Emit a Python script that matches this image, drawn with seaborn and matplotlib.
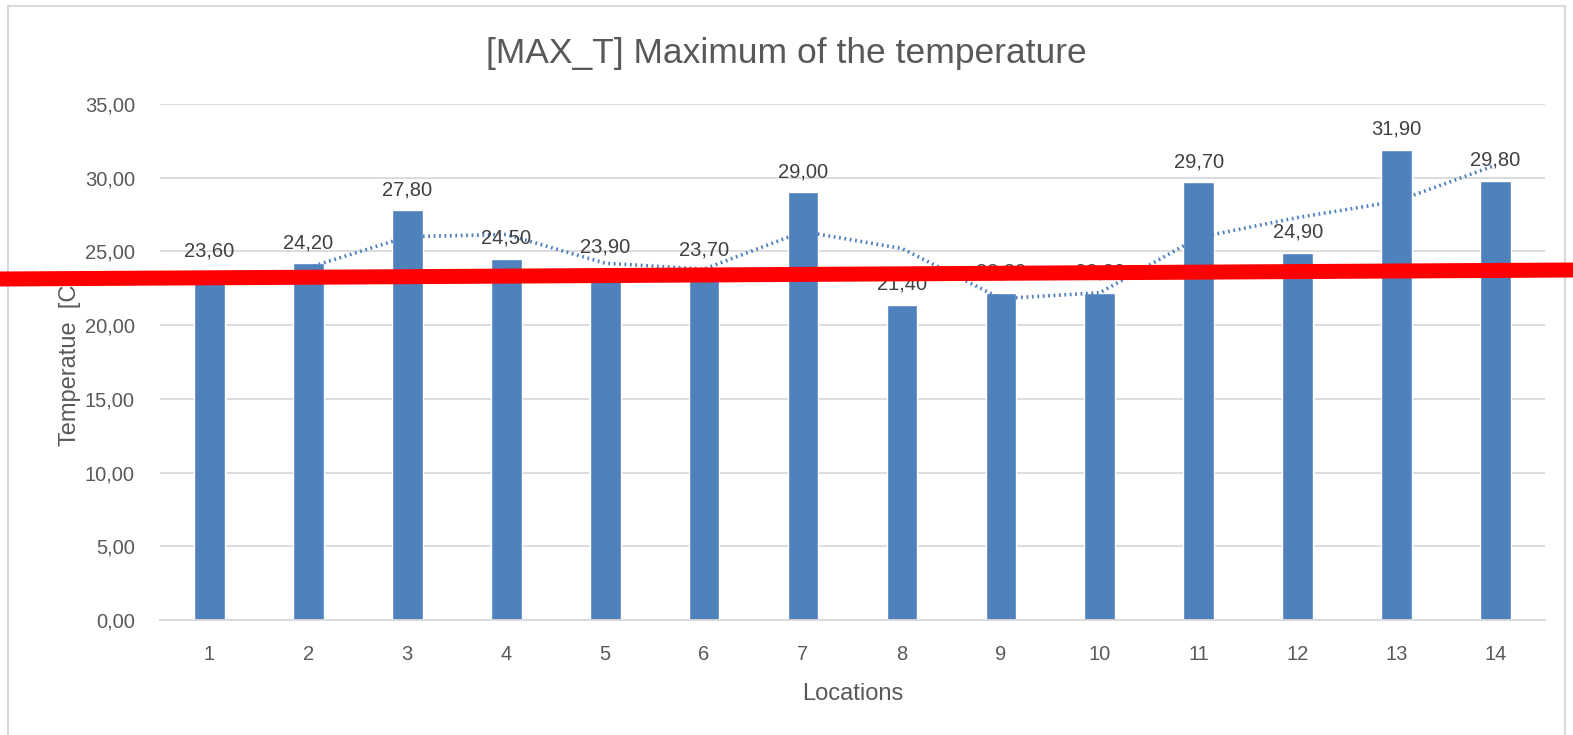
import numpy as np
import pandas as pd
import matplotlib
matplotlib.use("Agg")
import matplotlib.pyplot as plt
from matplotlib.lines import Line2D
from matplotlib.patches import Rectangle
from matplotlib.ticker import FuncFormatter, MultipleLocator
import seaborn as sns

# Datos
locations = [1, 2, 3, 4, 5, 6, 7, 8, 9, 10, 11, 12, 13, 14]
max_temp = [23.6, 24.2, 27.8, 24.5, 23.9, 23.7, 29.0, 21.4, 22.2, 22.2, 29.7, 24.9, 31.9, 29.8]

# Linea de tendencia punteada (media movil), valores estimados de la imagen
trend_locations = [2, 3, 4, 5, 6, 7, 8, 9, 10, 11, 12, 13, 14]
trend_values = [23.9, 26.0, 26.15, 24.2, 23.8, 26.35, 25.2, 21.8, 22.2, 25.95, 27.3, 28.4, 30.85]

df = pd.DataFrame({"location": locations, "max_temp": max_temp})
df_trend = pd.DataFrame({"location": trend_locations, "trend": trend_values})

sns.set_style("white")
plt.rcParams["font.family"] = ["Liberation Sans", "DejaVu Sans"]

bar_color = "#4F81BD"
text_color = "#595959"
grid_color = "#D9D9D9"

fig = plt.figure(figsize=(15.73, 7.35), dpi=100)
ax = fig.add_axes([160 / 1573, 1 - 620 / 735, 1385 / 1573, 516 / 735])

sns.barplot(data=df, x="location", y="max_temp", native_scale=True,
            color=bar_color, saturation=1, width=0.31, ax=ax, zorder=2)
sns.lineplot(data=df_trend, x="location", y="trend", color=bar_color,
             linestyle=(0, (0.5, 1.0)), linewidth=2.6, ax=ax, zorder=3)

# Etiquetas de datos con coma decimal
ax.bar_label(ax.containers[0], labels=[f"{v:.2f}".replace(".", ",") for v in max_temp],
             padding=8, fontsize=14.5, color="#404040", zorder=4)

ax.set_xlim(0.5, 14.5)
ax.set_ylim(0, 35)
ax.set_xticks(locations)
ax.yaxis.set_major_locator(MultipleLocator(5))
ax.yaxis.set_major_formatter(FuncFormatter(lambda v, p: f"{v:.2f}".replace(".", ",")))
ax.tick_params(axis="both", length=0, labelsize=14.5, labelcolor=text_color)
ax.tick_params(axis="x", pad=18)
ax.tick_params(axis="y", pad=18)

ax.grid(axis="y", color=grid_color, linewidth=1.3, zorder=0)
ax.set_axisbelow(True)
for s in ["top", "right", "left"]:
    ax.spines[s].set_visible(False)
ax.spines["bottom"].set_color(grid_color)
ax.spines["bottom"].set_linewidth(1.3)

ax.set_xlabel("Locations", fontsize=17, color=text_color, labelpad=14)
ax.set_ylabel("Temperatue  [C]", fontsize=17, color=text_color, labelpad=3)
fig.suptitle("[MAX_T] Maximum of the temperature", fontsize=25.5, color=text_color, y=0.95)

# Marco exterior del grafico
fig.add_artist(Rectangle((8 / 1573, -0.05), 1557 / 1573, 1.05 - 6 / 735,
                         transform=fig.transFigure, fill=False,
                         edgecolor="#D9D9D9", linewidth=1.5, zorder=0))

# Linea roja superpuesta
fig.add_artist(Line2D([0, 1], [1 - 279 / 735, 1 - 270 / 735], transform=fig.transFigure,
                      color="#FF0000", linewidth=10.8, solid_capstyle="butt", zorder=10))

fig.savefig("out.png", dpi=100)
